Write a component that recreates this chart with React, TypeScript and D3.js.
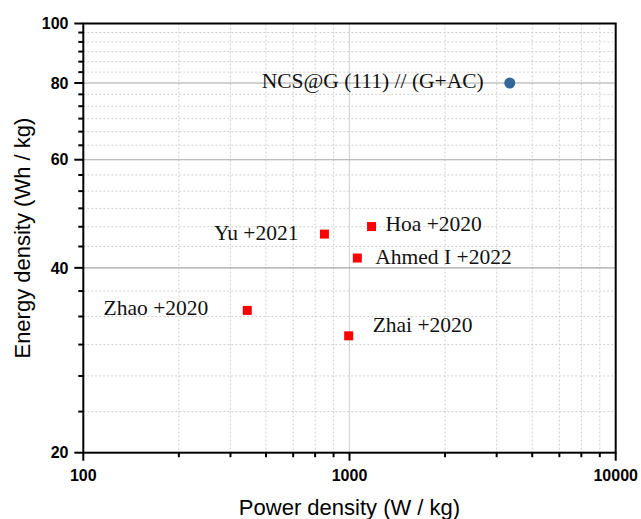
import React from "react";
import * as d3 from "d3";

// Reference sample (this work)
const refNames = ["NCS@G (111) // (G+AC)"];
const refPower = [4000];
const refEnergy = [80];

// Literature values
const litNames = ["Yu +2021", "Hoa +2020", "Ahmed I +2022", "Zhao +2020", "Zhai +2020"];
const litPower = [805, 1210, 1070, 413, 993];
const litEnergy = [45.4, 46.7, 41.5, 34.1, 31.0];

// Axis ticks
const xMajorTicks = [100, 1000, 10000];
const yMajorTicks = [20, 40, 60, 80, 100];
const xTickLabels = ["100", "1000", "10000"];
const yTickLabels = ["20", "40", "60", "80", "100"];

const W = 641;
const H = 519;
const M = { left: 83.3, right: 615.7, top: 23.5, bottom: 452.7 };

// Linear subdivisions between consecutive major ticks
function subdivide(majors: number[], parts: number): number[] {
  const out: number[] = [];
  for (let i = 0; i < majors.length - 1; i++) {
    const a = majors[i];
    const b = majors[i + 1];
    for (let k = 1; k < parts; k++) out.push(a + ((b - a) * k) / parts);
  }
  return out;
}

// Label placement relative to each marker: [dx, dy, anchor]
const refLabelPos: [number, number, string][] = [[-26, 5, "end"]];
const litLabelPos: [number, number, string][] = [
  [-26, 6, "end"],
  [14, 4, "start"],
  [18, 6, "start"],
  [-39, 4.5, "end"],
  [24, -3.5, "start"],
];

export default function App() {
  const x = d3.scaleLog().domain([100, 10000]).range([M.left, M.right]);
  const y = d3.scaleLog().domain([20, 100]).range([M.bottom, M.top]);

  const xMinor = subdivide(xMajorTicks, 7);
  const yMinor = subdivide(yMajorTicks, 6);

  const serif = "'Liberation Serif', 'Times New Roman', serif";
  const sans = "'Liberation Sans', Arial, sans-serif";

  return (
    <svg width={W} height={H} style={{ position: "absolute", left: 0, top: 0, background: "#fff" }}>
      {/* minor grid */}
      {xMinor.map((v, i) => (
        <line key={"gx" + i} x1={x(v)} x2={x(v)} y1={M.top} y2={M.bottom}
          stroke="#cfcfcf" strokeWidth={1} strokeDasharray="2,2" />
      ))}
      {yMinor.map((v, i) => (
        <line key={"gy" + i} x1={M.left} x2={M.right} y1={y(v)} y2={y(v)}
          stroke="#cfcfcf" strokeWidth={1} strokeDasharray="2,2" />
      ))}
      {/* major grid */}
      {xMajorTicks.slice(1, -1).map((v, i) => (
        <line key={"Gx" + i} x1={x(v)} x2={x(v)} y1={M.top} y2={M.bottom}
          stroke="#d4d4d4" strokeWidth={1.2} />
      ))}
      {yMajorTicks.slice(1, -1).map((v, i) => (
        <line key={"Gy" + i} x1={M.left} x2={M.right} y1={y(v)} y2={y(v)}
          stroke="#a6a6a6" strokeWidth={1.2} />
      ))}

      {/* frame */}
      <rect x={M.left} y={M.top} width={M.right - M.left} height={M.bottom - M.top}
        fill="none" stroke="#000" strokeWidth={2} />

      {/* x ticks */}
      {xMajorTicks.map((v, i) => (
        <line key={"tx" + i} x1={x(v)} x2={x(v)} y1={M.bottom} y2={M.bottom + 8}
          stroke="#000" strokeWidth={2} />
      ))}
      {xMinor.map((v, i) => (
        <line key={"mx" + i} x1={x(v)} x2={x(v)} y1={M.bottom} y2={M.bottom + 4.5}
          stroke="#000" strokeWidth={2} />
      ))}
      {xMajorTicks.map((v, i) => (
        <text key={"lx" + i} x={x(v)} y={480.7} textAnchor="middle"
          fontFamily={sans} fontWeight="bold" fontSize={16}>{xTickLabels[i]}</text>
      ))}

      {/* y ticks */}
      {yMajorTicks.map((v, i) => (
        <line key={"ty" + i} x1={M.left - 9} x2={M.left} y1={y(v)} y2={y(v)}
          stroke="#000" strokeWidth={2} />
      ))}
      {yMinor.map((v, i) => (
        <line key={"my" + i} x1={M.left - 5} x2={M.left} y1={y(v)} y2={y(v)}
          stroke="#000" strokeWidth={2} />
      ))}
      {yMajorTicks.map((v, i) => (
        <text key={"ly" + i} x={68.5} y={y(v) + 5.7} textAnchor="end"
          fontFamily={sans} fontWeight="bold" fontSize={16}>{yTickLabels[i]}</text>
      ))}

      {/* axis titles */}
      <text x={(M.left + M.right) / 2} y={515} textAnchor="middle"
        fontFamily={sans} fontSize={22}>Power density (W / kg)</text>
      <text transform={`translate(30,${(M.top + M.bottom) / 2}) rotate(-90)`} textAnchor="middle"
        fontFamily={sans} fontSize={22}>Energy density (Wh / kg)</text>

      {/* literature markers */}
      {litPower.map((p, i) => (
        <rect key={"s" + i} x={x(p) - 4.5} y={y(litEnergy[i]) - 4.5} width={9} height={9} fill="#ff0000" />
      ))}
      {litPower.map((p, i) => (
        <text key={"st" + i} x={x(p) + litLabelPos[i][0]} y={y(litEnergy[i]) + litLabelPos[i][1]}
          textAnchor={litLabelPos[i][2]} fontFamily={serif} fontSize={21.5} fill="#111">{litNames[i]}</text>
      ))}

      {/* reference marker */}
      {refPower.map((p, i) => (
        <circle key={"c" + i} cx={x(p)} cy={y(refEnergy[i])} r={5.5} fill="#336699" />
      ))}
      {refPower.map((p, i) => (
        <text key={"ct" + i} x={x(p) + refLabelPos[i][0]} y={y(refEnergy[i]) + refLabelPos[i][1]}
          textAnchor={refLabelPos[i][2]} fontFamily={serif} fontSize={21.5} fill="#111">{refNames[i]}</text>
      ))}
    </svg>
  );
}
